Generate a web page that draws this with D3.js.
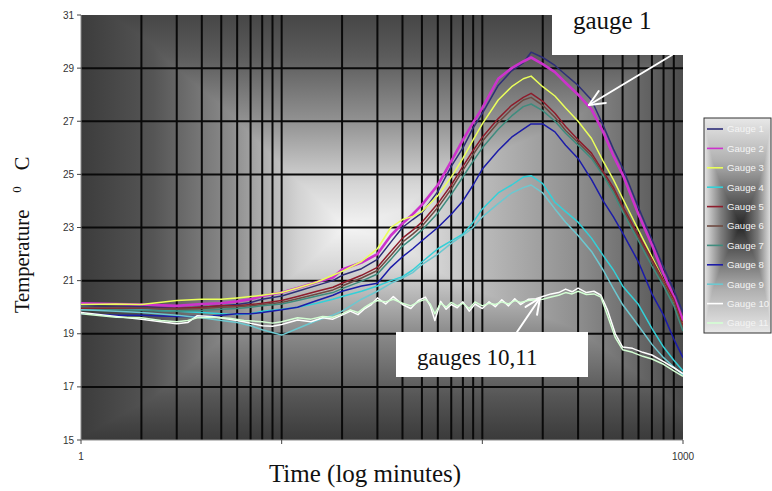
<!DOCTYPE html>
<html>
<head>
<meta charset="utf-8">
<script src="https://cdn.jsdelivr.net/npm/d3@7"></script>
<style>
  body { margin: 0; background: #fff; }
  svg { display: block; }
</style>
</head>
<body>
<div id="chart"></div>
<script>
// time points (minutes, log axis) shared by gauges 1-9
const times = [1, 1.5, 2, 3, 4, 5, 6, 7, 8, 10, 12, 15, 18, 20, 25, 30, 35, 40, 45, 50,
  60, 70, 80, 90, 100, 120, 140, 160, 175, 200, 230, 260, 300, 350, 400, 450, 500, 600, 700, 800, 900, 1000];

const gauge1 = [20.05, 20.0, 20.02, 19.95, 20.0, 20.05, 20.1, 20.18, 20.3, 20.42,
  20.6, 20.82, 21.0, 21.2, 21.45, 21.8, 22.45, 23.0, 23.3, 23.55,
  24.35, 25.3, 26.0, 26.75, 27.3, 28.35, 28.9, 29.2, 29.6, 29.4,
  29.1, 28.75, 28.35, 27.8, 26.85, 25.95, 25.25, 23.75, 22.55, 21.5, 20.65, 19.8];
const gauge2 = [20.15, 20.12, 20.1, 20.05, 20.12, 20.15, 20.22, 20.3, 20.42, 20.55,
  20.72, 20.95, 21.12, 21.42, 21.68, 22.0, 22.7, 23.15, 23.5, 23.85,
  24.6, 25.5, 26.3, 26.95, 27.5, 28.6, 29.0, 29.25, 29.4, 29.15,
  28.85, 28.45, 28.0, 27.45, 26.6, 25.7, 25.0, 23.5, 22.35, 21.25, 20.4, 19.5];
const gauge3 = [20.1, 20.12, 20.1, 20.25, 20.3, 20.3, 20.35, 20.4, 20.45, 20.55,
  20.72, 20.95, 21.2, 21.35, 21.72, 22.2, 23.0, 23.3, 23.42, 23.6,
  24.2, 24.9, 25.6, 26.3, 26.9, 27.8, 28.3, 28.6, 28.7, 28.3,
  27.95, 27.5, 27.0, 26.35, 25.5, 24.8, 24.1, 22.9, 21.9, 21.0, 20.2, 19.3];
const gauge4 = [20.0, 19.95, 19.9, 19.85, 19.8, 19.75, 19.72, 19.75, 19.85, 19.92,
  20.0, 20.15, 20.3, 20.4, 20.6, 20.8, 21.0, 21.15, 21.4, 21.7,
  22.2, 22.5, 22.75, 23.2, 23.7, 24.3, 24.6, 24.9, 24.95, 24.65,
  23.95, 23.6, 23.2, 22.6, 21.95, 21.4, 20.8, 20.1, 19.2, 18.5, 18.0, 17.6];
const gauge5 = [19.95, 19.95, 19.95, 19.95, 20.0, 20.05, 20.05, 20.1, 20.15, 20.25,
  20.4, 20.6, 20.75, 20.9, 21.2, 21.5, 22.1, 22.6, 22.9, 23.2,
  23.9, 24.6, 25.3, 25.9, 26.4, 27.1, 27.6, 27.9, 28.05, 27.75,
  27.3, 26.8, 26.3, 25.8, 25.1, 24.5, 23.8, 22.7, 21.8, 21.0, 20.3, 19.3];
const gauge6 = [20.0, 19.98, 19.97, 19.92, 19.95, 20.0, 20.02, 20.05, 20.1, 20.18,
  20.32, 20.5, 20.65, 20.8, 21.1, 21.38, 21.95, 22.45, 22.75, 23.05,
  23.75, 24.45, 25.15, 25.75, 26.25, 26.95, 27.45, 27.8, 27.9, 27.6,
  27.15, 26.65, 26.2, 25.7, 25.0, 24.4, 23.7, 22.6, 21.7, 20.9, 20.2, 19.2];
const gauge7 = [19.9, 19.9, 19.88, 19.85, 19.88, 19.92, 19.95, 20.0, 20.05, 20.12,
  20.25, 20.42, 20.55, 20.7, 20.98, 21.25, 21.8, 22.3, 22.6, 22.9,
  23.55, 24.25, 24.9, 25.5, 26.0, 26.7, 27.2, 27.55, 27.65, 27.4,
  27.0, 26.55, 26.1, 25.6, 24.95, 24.3, 23.6, 22.5, 21.55, 20.8, 20.05, 19.1];
const gauge8 = [19.75, 19.7, 19.7, 19.65, 19.65, 19.7, 19.75, 19.75, 19.8, 19.9,
  20.0, 20.25, 20.45, 20.6, 20.8, 20.9, 21.5, 21.9, 22.2, 22.5,
  23.0, 23.5, 24.0, 24.6, 25.2, 25.9, 26.4, 26.7, 26.9, 26.9,
  26.6, 26.1, 25.6, 24.8, 24.0, 23.4, 22.8, 21.7, 20.5, 19.7, 18.8, 18.1];
const gauge9 = [19.9, 19.85, 19.8, 19.7, 19.6, 19.5, 19.42, 19.3, 19.15, 18.95,
  19.2, 19.5, 19.7, 19.85, 20.3, 20.6, 20.9, 21.1, 21.3, 21.6,
  22.0, 22.4, 22.7, 23.0, 23.4, 23.9, 24.3, 24.5, 24.6, 24.3,
  23.7, 23.2, 22.7, 22.1, 21.4, 20.7, 20.1, 19.3, 18.6, 18.1, 17.75, 17.45];

// denser time points for the noisy gauges 10 and 11
const lowTimes = [1, 1.5, 2, 2.5, 3, 3.4, 3.8, 4.5, 5.5, 6.5, 8, 9, 10, 12, 14, 16, 18, 20, 22, 24,
  26, 28, 30, 33, 36, 40, 44, 48, 52, 55, 58, 62, 66, 70, 75, 80, 86, 92, 100, 108,
  116, 125, 135, 145, 155, 170, 185, 200, 220, 240, 260, 280, 300, 330, 360, 390, 420, 460, 500, 560,
  630, 700, 800, 900, 1000];
const gauge10 = [19.8, 19.65, 19.55, 19.45, 19.38, 19.42, 19.68, 19.65, 19.55, 19.45,
  19.3, 19.28, 19.35, 19.52, 19.45, 19.6, 19.55, 19.7, 19.85, 19.72,
  19.95, 20.1, 20.35, 20.12, 20.4, 20.1, 19.95, 20.25, 20.38, 20.05,
  19.5, 20.22, 19.92, 20.1, 19.98, 20.2, 19.85, 20.12, 19.95, 20.2,
  20.02, 20.28, 20.05, 20.32, 20.1, 20.3, 20.32, 20.4, 20.5, 20.55,
  20.68, 20.58, 20.72, 20.55, 20.6, 20.45, 19.9, 19.0, 18.5, 18.45,
  18.3, 18.2, 17.95, 17.72, 17.5];
const gauge11 = [19.75, 19.62, 19.6, 19.5, 19.45, 19.5, 19.6, 19.62, 19.58, 19.5,
  19.45, 19.4, 19.45, 19.6, 19.55, 19.65, 19.62, 19.75, 19.9, 19.8,
  20.0, 20.15, 20.25, 20.2, 20.3, 20.15, 20.05, 20.2, 20.3, 20.12,
  19.75, 20.15, 20.0, 20.18, 20.05, 20.15, 19.95, 20.2, 20.05, 20.15,
  20.1, 20.2, 20.12, 20.25, 20.18, 20.25, 20.28, 20.3, 20.38, 20.45,
  20.55, 20.5, 20.6, 20.48, 20.5, 20.38, 19.7, 18.85, 18.4, 18.3,
  18.15, 18.05, 17.85, 17.6, 17.4];

const gaugeNames = ["Gauge 1", "Gauge 2", "Gauge 3", "Gauge 4", "Gauge 5", "Gauge 6",
  "Gauge 7", "Gauge 8", "Gauge 9", "Gauge 10", "Gauge 11"];
const gaugeColors = ["#2e2e78", "#cc33cc", "#eaff5a", "#33d0d8", "#8e1d2c", "#6e4a42",
  "#3f8c7e", "#1c1ca8", "#6cc8d0", "#ffffff", "#d4ffd4"];
const yTicks = [15, 17, 19, 21, 23, 25, 27, 29, 31];
const xTickLabels = [1, 1000];

const series = [
  [times, gauge1], [times, gauge2], [times, gauge3], [times, gauge4], [times, gauge5],
  [times, gauge6], [times, gauge7], [times, gauge8], [times, gauge9],
  [lowTimes, gauge10], [lowTimes, gauge11]
].map(([t, v], i) => ({ name: gaugeNames[i], color: gaugeColors[i], pts: t.map((d, j) => [d, v[j]]) }));

const W = 772, H = 491;
const L = 81, R = 683, T = 15, B = 440;

const x = d3.scaleLog().domain([1, 1000]).range([L, R]);
const y = d3.scaleLinear().domain([15, 31]).range([B, T]);

const svg = d3.select("#chart").append("svg").attr("width", W).attr("height", H);
const defs = svg.append("defs");

function linGrad(id, horiz, stops) {
  const g = defs.append("linearGradient").attr("id", id)
    .attr("x1", 0).attr("y1", 0).attr("x2", horiz ? 1 : 0).attr("y2", horiz ? 0 : 1);
  stops.forEach(([o, c]) => g.append("stop").attr("offset", o).attr("stop-color", c));
}

// plot background: rectangular "from centre" gradient = darker of two linear ramps
linGrad("bgH", true, [[0, "#3c3c3c"], [0.12, "#555"], [0.25, "#8c8c8c"], [0.36, "#d2d2d2"],
  [0.44, "#f4f4f4"], [0.53, "#e8e8e8"], [0.66, "#bcbcbc"], [0.82, "#909090"], [1, "#4c4c4c"]]);
linGrad("bgV", false, [[0, "#464646"], [0.1, "#5c5c5c"], [0.25, "#929292"], [0.4, "#d6d6d6"],
  [0.5, "#f4f4f4"], [0.6, "#d4d4d4"], [0.75, "#8a8a8a"], [0.9, "#555"], [1, "#3a3a3a"]]);
// legend: inverse (dark centre, light edges) = lighter of two ramps
linGrad("lgH", true, [[0, "#e6e6e6"], [0.25, "#808080"], [0.55, "#262626"], [0.8, "#7a7a7a"], [1, "#e4e4e4"]]);
linGrad("lgV", false, [[0, "#e8e8e8"], [0.2, "#b0b0b0"], [0.5, "#262626"], [0.8, "#b0b0b0"], [1, "#e8e8e8"]]);

defs.append("clipPath").attr("id", "plotClip")
  .append("rect").attr("x", L).attr("y", T).attr("width", R - L).attr("height", B - T);

const bg = svg.append("g").style("isolation", "isolate");
bg.append("rect").attr("x", L).attr("y", T).attr("width", R - L).attr("height", B - T).attr("fill", "url(#bgH)");
bg.append("rect").attr("x", L).attr("y", T).attr("width", R - L).attr("height", B - T).attr("fill", "url(#bgV)")
  .style("mix-blend-mode", "darken");

// grid
const grid = svg.append("g").attr("stroke", "#0a0a0a").attr("stroke-width", 2);
grid.selectAll("line.v").data(x.ticks().filter(t => t > 1 && t < 1000)).join("line")
  .attr("class", "v").attr("x1", d => x(d)).attr("x2", d => x(d)).attr("y1", T).attr("y2", B);
grid.selectAll("line.h").data(yTicks.filter(t => t > 15 && t < 31)).join("line")
  .attr("class", "h").attr("y1", d => y(d)).attr("y2", d => y(d)).attr("x1", L).attr("x2", R);

// axes frame
const ax = svg.append("g").attr("stroke", "#8a8a8a").attr("stroke-width", 1).attr("fill", "none");
ax.append("path").attr("d", `M${L},${T}V${B}H${R}`);
ax.selectAll("line.yt").data(yTicks).join("line").attr("class", "yt")
  .attr("x1", L - 4).attr("x2", L).attr("y1", d => y(d)).attr("y2", d => y(d)).attr("stroke", "#444");
ax.selectAll("line.xt").data([1, 10, 100, 1000]).join("line").attr("class", "xt")
  .attr("x1", d => x(d)).attr("x2", d => x(d)).attr("y1", B).attr("y2", B + 4).attr("stroke", "#444");

svg.append("g").selectAll("text").data(yTicks).join("text")
  .attr("x", L - 7).attr("y", d => y(d) + 3.5).attr("text-anchor", "end")
  .attr("font-family", "Liberation Sans, Arial, sans-serif").attr("font-size", 10).attr("fill", "#333")
  .text(d => d);
svg.append("g").selectAll("text").data(xTickLabels).join("text")
  .attr("x", d => x(d)).attr("y", B + 20).attr("text-anchor", "middle")
  .attr("font-family", "Liberation Sans, Arial, sans-serif").attr("font-size", 10).attr("fill", "#333")
  .text(d => d);

// series
const line = d3.line().x(d => x(d[0])).y(d => y(d[1]));
svg.append("g").attr("clip-path", "url(#plotClip)").attr("fill", "none")
  .selectAll("path").data(series).join("path")
  .attr("d", d => line(d.pts))
  .attr("stroke", d => d.color)
  .attr("stroke-width", (d, i) => i === 1 ? 2.6 : 1.5)
  .attr("stroke-linejoin", "round");

// annotations
function arrow(g, x1, y1, x2, y2) {
  const a = Math.atan2(y1 - y2, x1 - x2), len = 17, spread = 0.42;
  g.append("line").attr("x1", x1).attr("y1", y1).attr("x2", x2).attr("y2", y2);
  [a - spread, a + spread].forEach(b => g.append("line")
    .attr("x1", x2).attr("y1", y2).attr("x2", x2 + len * Math.cos(b)).attr("y2", y2 + len * Math.sin(b)));
}
const ann = svg.append("g");
ann.append("rect").attr("x", 552).attr("y", 0).attr("width", 131).attr("height", 55).attr("fill", "#fff");
ann.append("rect").attr("x", 396).attr("y", 332).attr("width", 192).attr("height", 45).attr("fill", "#fff");
ann.append("text").attr("x", 573).attr("y", 29).attr("font-family", "Liberation Serif, Times New Roman, serif")
  .attr("font-size", 25).attr("fill", "#111").text("gauge 1");
ann.append("text").attr("x", 417).attr("y", 365).attr("font-family", "Liberation Serif, Times New Roman, serif")
  .attr("font-size", 23).attr("fill", "#111").text("gauges 10,11");
const arr = ann.append("g").attr("stroke", "#fff").attr("stroke-width", 2).attr("stroke-linecap", "round");
arrow(arr, 672, 55, 589, 105);
arrow(arr, 517, 332, 540, 298);

// axis titles
svg.append("text").attr("x", 365).attr("y", 482).attr("text-anchor", "middle")
  .attr("font-family", "Liberation Serif, Times New Roman, serif").attr("font-size", 25).attr("fill", "#111")
  .text("Time (log minutes)");
const yl = svg.append("text").attr("transform", "translate(29,313) rotate(-90)")
  .attr("font-family", "Liberation Serif, Times New Roman, serif").attr("font-size", 20.5).attr("fill", "#111");
yl.append("tspan").text("Temperature");
yl.append("tspan").attr("dx", 17).attr("dy", -8).attr("font-size", 13).text("0");
yl.append("tspan").attr("dx", 16).attr("dy", 8).text("C");

// legend
const lx = 704, ly = 118, lw = 67, lh = 215;
const lg = svg.append("g");
const lbg = lg.append("g").style("isolation", "isolate");
lbg.append("rect").attr("x", lx).attr("y", ly).attr("width", lw).attr("height", lh).attr("fill", "url(#lgH)");
lbg.append("rect").attr("x", lx).attr("y", ly).attr("width", lw).attr("height", lh).attr("fill", "url(#lgV)")
  .style("mix-blend-mode", "lighten");
lg.append("rect").attr("x", lx).attr("y", ly).attr("width", lw).attr("height", lh)
  .attr("fill", "none").attr("stroke", "#333").attr("stroke-width", 1);
const ly0 = 129, lstep = 19.4;
const items = lg.selectAll("g.item").data(series).join("g").attr("class", "item")
  .attr("transform", (d, i) => `translate(0,${ly0 + i * lstep})`);
items.append("line").attr("x1", 707).attr("x2", 723).attr("stroke", d => d.color).attr("stroke-width", 1.6);
items.append("text").attr("x", 727).attr("y", 3.4).attr("font-family", "Liberation Sans, Arial, sans-serif")
  .attr("font-size", 9.6).attr("fill", "#f4f4f4").text(d => d.name);
</script>
</body>
</html>
